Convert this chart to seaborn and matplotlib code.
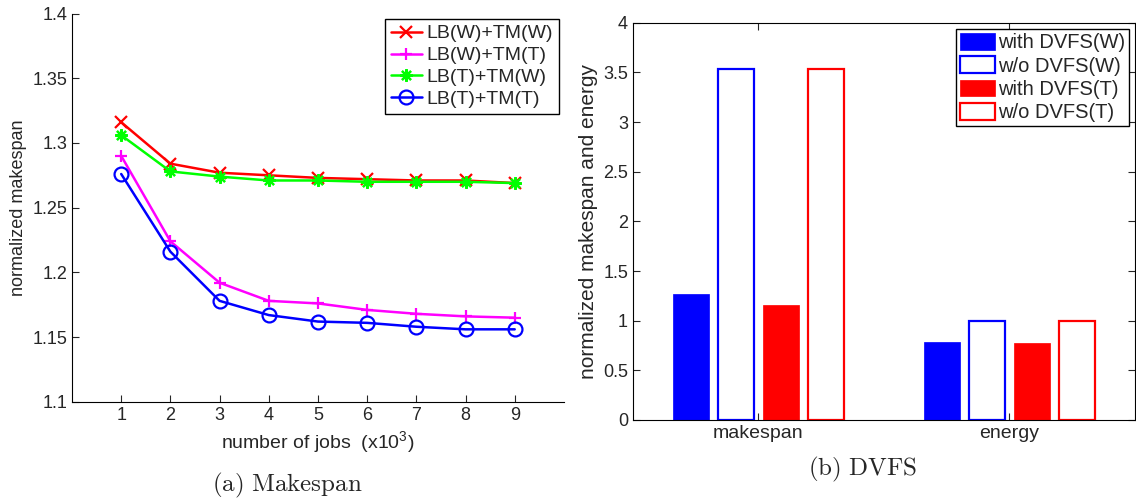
import matplotlib
matplotlib.use("Agg")
import matplotlib.pyplot as plt
import pandas as pd
import seaborn as sns

# makespan vs number of jobs (x10^3)
jobs = [1, 2, 3, 4, 5, 6, 7, 8, 9]
methods = ['LB(W)+TM(W)', 'LB(W)+TM(T)', 'LB(T)+TM(W)', 'LB(T)+TM(T)']
lbw_tmw = [1.316, 1.284, 1.277, 1.275, 1.273, 1.272, 1.271, 1.271, 1.269]
lbw_tmt = [1.290, 1.224, 1.192, 1.178, 1.176, 1.171, 1.168, 1.166, 1.165]
lbt_tmw = [1.306, 1.278, 1.274, 1.271, 1.271, 1.270, 1.270, 1.270, 1.269]
lbt_tmt = [1.276, 1.216, 1.178, 1.167, 1.162, 1.161, 1.158, 1.156, 1.156]

# DVFS comparison
metrics = ['makespan', 'energy']
configs = ['with DVFS(W)', 'w/o DVFS(W)', 'with DVFS(T)', 'w/o DVFS(T)']
with_w = [1.27, 0.79]
without_w = [3.53, 1.00]
with_t = [1.16, 0.78]
without_t = [3.53, 1.00]

line_colors = ['#ff0000', '#ff00ff', '#00ff00', '#0000ff']
line_markers = ['x', '+', (8, 2, 0), 'o']
bar_colors = ['#0000ff', '#0000ff', '#ff0000', '#ff0000']

sns.set_style('white')
plt.rcParams['font.family'] = ['Liberation Sans', 'DejaVu Sans']
plt.rcParams['mathtext.fontset'] = 'custom'
plt.rcParams['mathtext.rm'] = 'Liberation Sans'
plt.rcParams['xtick.direction'] = 'in'
plt.rcParams['ytick.direction'] = 'in'

df_lines = pd.DataFrame({
    'jobs': jobs * 4,
    'makespan': lbw_tmw + lbw_tmt + lbt_tmw + lbt_tmt,
    'method': [m for m in methods for _ in jobs],
})
df_bars = pd.DataFrame({
    'metric': metrics * 4,
    'value': with_w + without_w + with_t + without_t,
    'config': [c for c in configs for _ in metrics],
})

fig = plt.figure(figsize=(11.36, 5.01), dpi=100)
ax1 = fig.add_axes([0.0634, 0.198, 0.433, 0.775])
ax2 = fig.add_axes([0.5572, 0.1617, 0.4419, 0.793])

# (a) makespan lines
sns.lineplot(data=df_lines, x='jobs', y='makespan', hue='method',
             hue_order=methods, palette=line_colors, legend=False,
             linewidth=1.8, ax=ax1)
for line, c, m in zip(ax1.lines, line_colors, line_markers):
    line.set_marker(m)
    line.set_markeredgecolor(c)
    line.set_markerfacecolor('none')
    line.set_markeredgewidth(1.6)
    line.set_markersize(9)
ax1.lines[3].set_markersize(10)
ax1.set_xlim(0, 10)
ax1.set_ylim(1.1, 1.4)
ax1.set_xticks(jobs)
ax1.set_yticks([1.1, 1.15, 1.2, 1.25, 1.3, 1.35, 1.4])
ax1.set_yticklabels(['1.1', '1.15', '1.2', '1.25', '1.3', '1.35', '1.4'])
ax1.tick_params(labelsize=13, length=5, width=0.8, left=True, bottom=True)
ax1.set_xlabel('number of jobs  (x10$^3$)', fontsize=14)
ax1.set_ylabel('normalized makespan', fontsize=13)
for s in ['top', 'right']:
    ax1.spines[s].set_visible(False)
for s in ['left', 'bottom']:
    ax1.spines[s].set_color('black')
    ax1.spines[s].set_linewidth(0.8)
leg1 = ax1.legend(ax1.lines, methods, loc='upper right',
                  bbox_to_anchor=(0.492, 0.962), bbox_transform=fig.transFigure,
                  fontsize=14, handlelength=1.6, handletextpad=0.25,
                  labelspacing=0.22, borderpad=0.3, borderaxespad=0,
                  fancybox=False, framealpha=1)
leg1.get_frame().set_edgecolor('black')
leg1.get_frame().set_linewidth(1.0)

# (b) DVFS bars
sns.barplot(data=df_bars, x='metric', y='value', hue='config', order=metrics,
            hue_order=configs, palette=bar_colors, saturation=1,
            width=0.717, gap=0.18, legend=False, ax=ax2)
for i, cont in enumerate(ax2.containers):
    for p in cont.patches:
        if i % 2 == 1:
            p.set_facecolor('white')
            p.set_edgecolor(bar_colors[i])
            p.set_linewidth(1.6)
        else:
            p.set_edgecolor(bar_colors[i])
            p.set_linewidth(0.5)
ax2.set_xlim(-0.5, 1.5)
ax2.set_ylim(0, 4)
ax2.set_yticks([0, 0.5, 1, 1.5, 2, 2.5, 3, 3.5, 4])
ax2.set_yticklabels(['0', '0.5', '1', '1.5', '2', '2.5', '3', '3.5', '4'])
ax2.tick_params(labelsize=13, length=5, width=0.8, left=True, bottom=True,
                right=True, top=True)
ax2.tick_params(axis='x', labelsize=14)
ax2.set_xlabel('')
ax2.set_ylabel('normalized makespan and energy', fontsize=15)
for s in ax2.spines.values():
    s.set_visible(True)
    s.set_color('black')
    s.set_linewidth(0.8)
leg2 = ax2.legend(ax2.containers, configs, loc='upper right',
                  bbox_to_anchor=(0.9938, 0.942), bbox_transform=fig.transFigure,
                  fontsize=14.5, handlelength=1.75, handleheight=0.9,
                  handletextpad=0.15, labelspacing=0.2, borderpad=0.2,
                  borderaxespad=0, fancybox=False, framealpha=1)
leg2.get_frame().set_edgecolor('black')
leg2.get_frame().set_linewidth(1.0)

# captions
cap = dict(fontsize=18, ha='center', va='center', math_fontfamily='cm')
fig.text(0.253, 0.032, r'$\mathrm{(a)\ Makespan}$', **cap)
fig.text(0.759, 0.062, r'$\mathrm{(b)\ DVFS}$', **cap)

fig.savefig('out.png', dpi=100)
